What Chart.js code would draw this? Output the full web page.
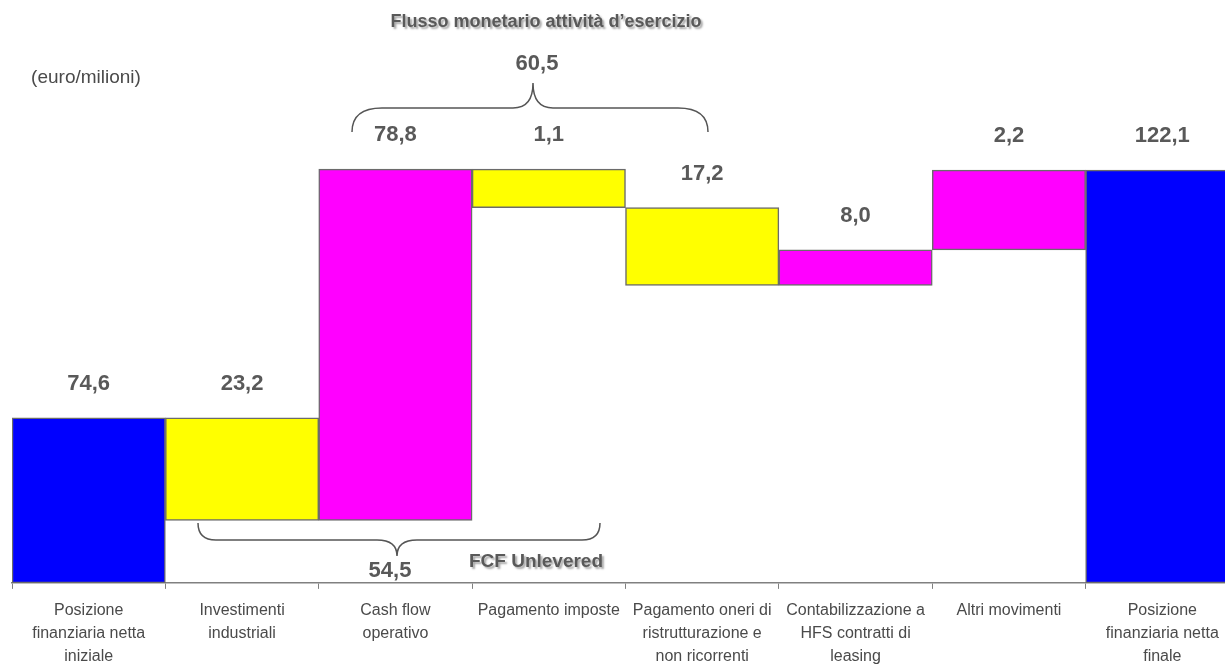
<!DOCTYPE html>
<html>
<head>
<meta charset="utf-8">
<script src="https://cdn.jsdelivr.net/npm/chart.js@4"></script>
<style>
  html, body { margin: 0; padding: 0; background: #fff; overflow: hidden; }
  #wrap { width: 1225px; height: 665px; overflow: hidden; position: relative; }
  #chart { position: absolute; left: 0; top: 0; }
</style>
</head>
<body>
<div id="wrap"><canvas id="chart" width="1240" height="678"></canvas></div>
<script>
// categorie (una riga per elemento)
const categories = [
  ['Posizione', 'finanziaria netta', 'iniziale'],
  ['Investimenti', 'industriali'],
  ['Cash flow', 'operativo'],
  ['Pagamento imposte'],
  ['Pagamento oneri di', 'ristrutturazione e', 'non ricorrenti'],
  ['Contabilizzazione a', 'HFS contratti di', 'leasing'],
  ['Altri movimenti'],
  ['Posizione', 'finanziaria netta', 'finale']
];

// valori scritti sopra le barre (euro/milioni)
const values = [74.6, 23.2, 78.8, 1.1, 17.2, 8.0, 2.2, 122.1];

// tipo di barra: totale, positivo, negativo
const kinds = ['total', 'neg', 'pos', 'neg', 'neg', 'pos', 'pos', 'total'];

// livelli delle barre come appaiono nel grafico (non in scala con i valori)
const levelLow  = [0, 18.5, 18.5, 111.0, 88.0, 88.0, 98.5, 0];
const levelHigh = [48.8, 48.8, 122.4, 122.4, 111.0, 98.5, 122.1, 122.1];

// subtotali con graffa
const subtotalFlusso = 60.5;
const subtotalFcf = 54.5;

const FONT = '"Liberation Sans", Arial, Helvetica, sans-serif';
const colors = { total: '#0000FF', pos: '#FF00FF', neg: '#FFFF00' };

function fmt(v) {
  return v.toFixed(1).replace('.', ',');
}

// graffa orizzontale
function brace(ctx, x1, x2, xm, yEnd, yLine, yTip, r, r2) {
  ctx.beginPath();
  ctx.moveTo(x1, yEnd);
  ctx.quadraticCurveTo(x1, yLine, x1 + r, yLine);
  ctx.lineTo(xm - r2, yLine);
  ctx.quadraticCurveTo(xm, yLine, xm, yTip);
  ctx.quadraticCurveTo(xm, yLine, xm + r2, yLine);
  ctx.lineTo(x2 - r, yLine);
  ctx.quadraticCurveTo(x2, yLine, x2, yEnd);
  ctx.stroke();
}

const extras = {
  id: 'extras',
  afterDraw(chart) {
    const ctx = chart.ctx;
    const meta = chart.getDatasetMeta(0);
    const y = chart.scales.y;
    ctx.save();

    // etichette valori
    ctx.fillStyle = '#595959';
    ctx.font = 'bold 22px ' + FONT;
    ctx.textAlign = 'center';
    ctx.textBaseline = 'middle';
    meta.data.forEach((bar, i) => {
      const top = y.getPixelForValue(levelHigh[i]);
      ctx.fillText(fmt(values[i]), bar.x, top - 34);
    });

    // unità
    ctx.font = '19px ' + FONT;
    ctx.fillStyle = '#4a4a4a';
    ctx.fillText('(euro/milioni)', 86, 78);

    // subtotali
    ctx.font = 'bold 22px ' + FONT;
    ctx.fillStyle = '#595959';
    ctx.fillText(fmt(subtotalFlusso), 537, 64);
    ctx.fillText(fmt(subtotalFcf), 390, 571);

    // graffe
    ctx.strokeStyle = '#555';
    ctx.lineWidth = 1.5;
    brace(ctx, 352, 708, 533, 132, 108, 83, 30, 20);
    brace(ctx, 198, 600, 397, 523, 540, 556, 18, 20);

    // titoli con ombra
    ctx.shadowColor = 'rgba(0,0,0,0.35)';
    ctx.shadowOffsetX = 2;
    ctx.shadowOffsetY = 2;
    ctx.shadowBlur = 2;
    ctx.fillStyle = '#595959';
    ctx.font = 'bold 18px ' + FONT;
    ctx.fillText('Flusso monetario attività d\u2019esercizio', 546, 22);
    ctx.font = 'bold 19px ' + FONT;
    ctx.fillText('FCF Unlevered', 536, 562);
    ctx.restore();
  }
};

new Chart(document.getElementById('chart'), {
  type: 'bar',
  data: {
    labels: categories,
    datasets: [{
      data: levelLow.map((lo, i) => [lo, levelHigh[i]]),
      backgroundColor: kinds.map(k => colors[k]),
      borderColor: '#6b6b6b',
      borderWidth: 1.5,
      borderSkipped: false,
      barPercentage: 1,
      categoryPercentage: 1
    }]
  },
  options: {
    responsive: false,
    animation: false,
    layout: { padding: { left: 12, right: 1, top: 0, bottom: 0 } },
    plugins: {
      legend: { display: false },
      tooltip: { enabled: false }
    },
    scales: {
      x: {
        grid: {
          display: true,
          offset: true,
          drawOnChartArea: false,
          drawTicks: true,
          tickLength: 6,
          color: '#808080'
        },
        border: { display: true, color: '#808080', width: 1.5 },
        ticks: {
          color: '#4a4a4a',
          font: { family: FONT, size: 16, lineHeight: 1.44 },
          padding: 10,
          maxRotation: 0,
          autoSkip: false
        }
      },
      y: {
        display: false,
        min: 0,
        max: 172.4
      }
    }
  },
  plugins: [extras]
});
</script>
</body>
</html>
